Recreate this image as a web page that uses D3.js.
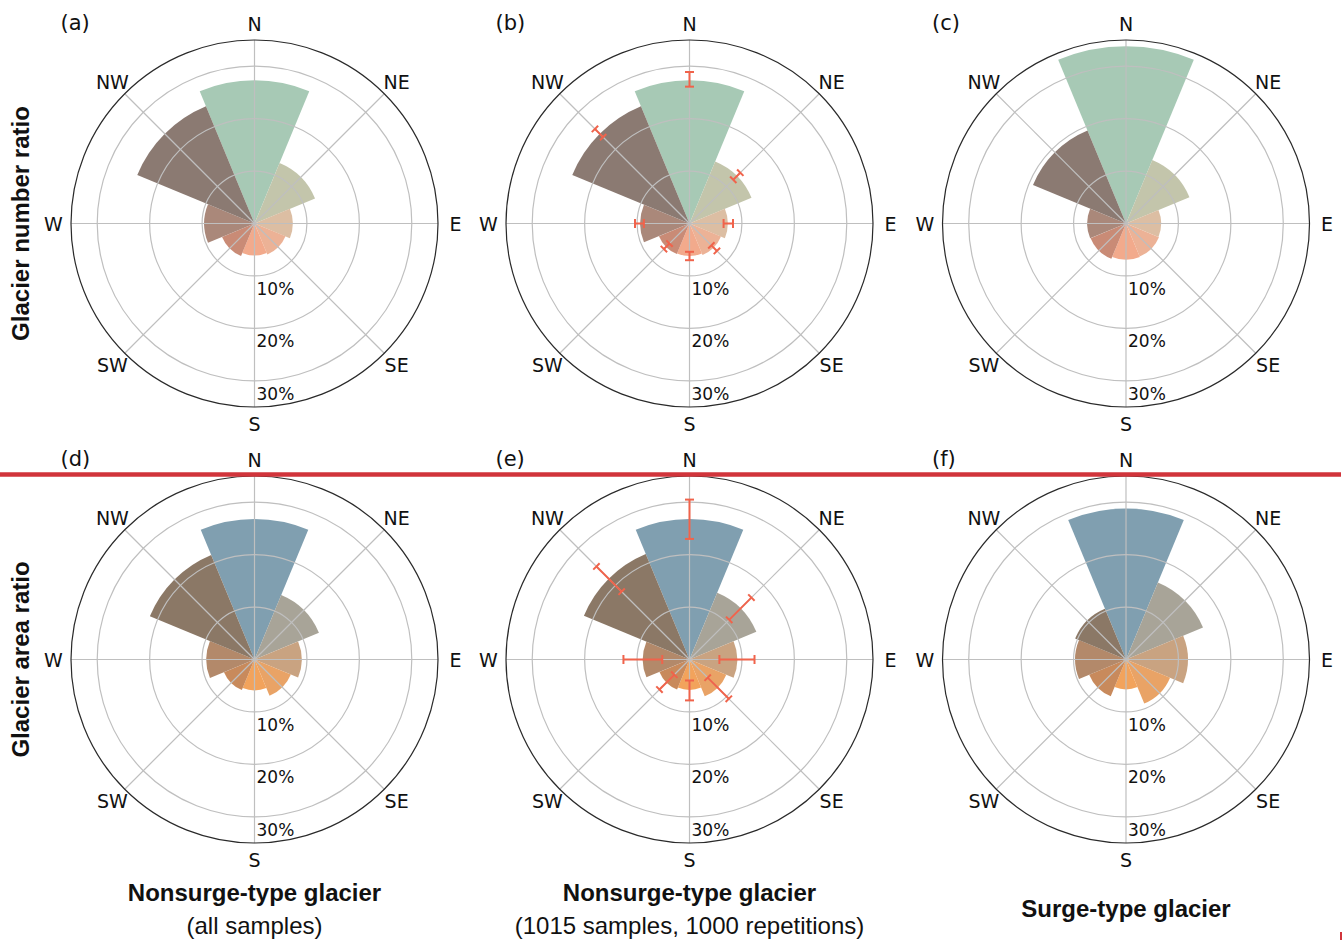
<!DOCTYPE html>
<html>
<head>
<meta charset="utf-8">
<script src="https://cdn.jsdelivr.net/npm/d3@7"></script>
<style>
  html, body { margin: 0; padding: 0; background: #fff; }
  svg { display: block; }
</style>
</head>
<body>
<div id="viz"></div>
<script>
// compass sectors, clockwise from north
const directions = ['N', 'NE', 'E', 'SE', 'S', 'SW', 'W', 'NW'];

// glacier number ratio (%)
const numberAll = [27.3, 12.5, 7.3, 6.4, 6.1, 6.7, 9.6, 24.2];
const numberSampled = [27.3, 12.8, 7.3, 6.5, 6.2, 6.3, 9.4, 24.2];
const numberSampledLo = [26.1, 11.8, 6.5, 5.9, 5.4, 5.4, 8.7, 23.3];
const numberSampledHi = [28.9, 13.7, 8.3, 7.4, 7.0, 6.9, 10.4, 25.5];
const numberSurge = [33.8, 13.1, 6.7, 6.8, 6.9, 7.3, 7.4, 19.2];

// glacier area ratio (%)
const areaAll = [26.8, 13.3, 9.0, 7.5, 5.9, 6.3, 9.2, 21.6];
const areaSampled = [26.8, 13.8, 9.1, 7.6, 5.8, 6.2, 8.9, 21.8];
const areaSampledLo = [23.0, 10.7, 5.7, 4.9, 4.0, 4.1, 5.2, 18.3];
const areaSampledHi = [30.5, 16.7, 12.4, 10.6, 7.8, 8.1, 12.6, 25.1];
const areaSurge = [28.8, 15.9, 11.8, 9.1, 5.7, 7.6, 9.7, 10.5];

const rTicks = [10, 20, 30];
const rMax = 35;

const numberColors = ['#a7c9b5', '#c3c5ab', '#dcbea3', '#ecb296', '#f2aa8c', '#c98b76', '#aa887a', '#8b7a72'];
const areaColors = ['#809fb0', '#a8a498', '#c9a381', '#e9a366', '#f2a35c', '#c88a5c', '#b3896a', '#8b7866'];

const panelLabels = ['(a)', '(b)', '(c)', '(d)', '(e)', '(f)'];
const rowTitles = ['Glacier number ratio', 'Glacier area ratio'];

const width = 1344, height = 942;
const colX = [254.5, 689.5, 1126];
const rowY = [223.5, 659.5];
const outerR = 183.5;

const svg = d3.select('#viz').append('svg')
  .attr('width', width)
  .attr('height', height);

const r = d3.scaleLinear().domain([0, rMax]).range([0, outerR]);
const step = 2 * Math.PI / directions.length;
const ang = d3.scaleLinear().domain([0, directions.length]).range([0, 2 * Math.PI]);

const arc = d3.arc()
  .innerRadius(0)
  .outerRadius(d => r(d.v))
  .startAngle(d => ang(d.i) - step / 2)
  .endAngle(d => ang(d.i) + step / 2);

const panels = [
  { values: numberAll, colors: numberColors },
  { values: numberSampled, lo: numberSampledLo, hi: numberSampledHi, colors: numberColors },
  { values: numberSurge, colors: numberColors },
  { values: areaAll, colors: areaColors },
  { values: areaSampled, lo: areaSampledLo, hi: areaSampledHi, colors: areaColors },
  { values: areaSurge, colors: areaColors }
];

panels.forEach((p, k) => {
  const cx = colX[k % 3], cy = rowY[Math.floor(k / 3)];
  const g = svg.append('g').attr('transform', `translate(${cx},${cy})`);

  // bars
  g.selectAll('path.bar')
    .data(p.values.map((v, i) => ({ v, i })))
    .enter()
    .append('path')
    .attr('class', 'bar')
    .attr('d', arc)
    .attr('fill', d => p.colors[d.i]);

  // grid over the bars
  g.selectAll('circle.grid')
    .data(rTicks)
    .enter()
    .append('circle')
    .attr('r', d => r(d))
    .attr('fill', 'none')
    .attr('stroke', '#bfbfbf')
    .attr('stroke-width', 1.2);

  g.selectAll('line.spoke')
    .data(directions.map((d, i) => i))
    .enter()
    .append('line')
    .attr('x1', 0).attr('y1', 0)
    .attr('x2', i => Math.sin(ang(i)) * r(rMax))
    .attr('y2', i => -Math.cos(ang(i)) * r(rMax))
    .attr('stroke', '#bfbfbf')
    .attr('stroke-width', 1.2);

  g.append('circle')
    .attr('r', r(rMax))
    .attr('fill', 'none')
    .attr('stroke', '#2a2a2a')
    .attr('stroke-width', 1.2);

  // error bars for the resampled panels
  if (p.lo) {
    const eb = g.selectAll('g.err')
      .data(p.lo.map((lo, i) => ({ lo, hi: p.hi[i], i })))
      .enter()
      .append('g')
      .attr('transform', d => `rotate(${ang(d.i) * 180 / Math.PI})`);
    eb.append('line')
      .attr('x1', 0).attr('x2', 0)
      .attr('y1', d => -r(d.lo))
      .attr('y2', d => -r(d.hi));
    eb.append('line')
      .attr('x1', -4.5).attr('x2', 4.5)
      .attr('y1', d => -r(d.lo)).attr('y2', d => -r(d.lo));
    eb.append('line')
      .attr('x1', -4.5).attr('x2', 4.5)
      .attr('y1', d => -r(d.hi)).attr('y2', d => -r(d.hi));
    eb.selectAll('line')
      .attr('stroke', '#f0634b')
      .attr('stroke-width', 2);
  }

  // radial tick labels along south
  g.selectAll('text.rt')
    .data(rTicks)
    .enter()
    .append('text')
    .attr('x', 2)
    .attr('y', d => r(d) + 13)
    .attr('dominant-baseline', 'central')
    .attr('font-family', 'DejaVu Sans')
    .attr('font-size', 17)
    .attr('fill', '#111')
    .text(d => d + '%');

  // compass labels
  g.selectAll('text.dir')
    .data(directions)
    .enter()
    .append('text')
    .attr('x', (d, i) => Math.sin(ang(i)) * 201)
    .attr('y', (d, i) => -Math.cos(ang(i)) * 200)
    .attr('text-anchor', 'middle')
    .attr('dominant-baseline', 'central')
    .attr('font-family', 'DejaVu Sans')
    .attr('font-size', 19)
    .attr('fill', '#111')
    .text(d => d);

  g.append('text')
    .attr('x', -194)
    .attr('y', -201)
    .attr('dominant-baseline', 'central')
    .attr('font-family', 'DejaVu Sans')
    .attr('font-size', 21)
    .attr('fill', '#111')
    .text(panelLabels[k]);
});

// row titles
rowTitles.forEach((t, i) => {
  svg.append('text')
    .attr('transform', `translate(20,${rowY[i]}) rotate(-90)`)
    .attr('text-anchor', 'middle')
    .attr('dominant-baseline', 'central')
    .attr('font-family', 'Liberation Sans, Arial, sans-serif')
    .attr('font-weight', 'bold')
    .attr('font-size', 24)
    .attr('fill', '#111')
    .text(t);
});

// column titles
const colTitles = [
  ['Nonsurge-type glacier', '(all samples)'],
  ['Nonsurge-type glacier', '(1015 samples, 1000 repetitions)'],
  ['Surge-type glacier']
];
colTitles.forEach((lines, i) => {
  const single = lines.length === 1;
  svg.append('text')
    .attr('x', colX[i]).attr('y', single ? 908 : 892)
    .attr('text-anchor', 'middle')
    .attr('dominant-baseline', 'central')
    .attr('font-family', 'Liberation Sans, Arial, sans-serif')
    .attr('font-weight', 'bold')
    .attr('font-size', 24)
    .attr('fill', '#111')
    .text(lines[0]);
  if (!single) {
    svg.append('text')
      .attr('x', colX[i]).attr('y', 925)
      .attr('text-anchor', 'middle')
      .attr('dominant-baseline', 'central')
      .attr('font-family', 'Liberation Sans, Arial, sans-serif')
      .attr('font-size', 24)
      .attr('fill', '#111')
      .text(lines[1]);
  }
});

// red separator line between the rows
svg.append('line')
  .attr('x1', 0).attr('x2', 1341)
  .attr('y1', 474.5).attr('y2', 474.5)
  .attr('stroke', '#d1343b')
  .attr('stroke-width', 4.5);
svg.append('line')
  .attr('x1', 1341).attr('x2', 1341)
  .attr('y1', 932).attr('y2', 940)
  .attr('stroke', '#d1343b')
  .attr('stroke-width', 2);
</script>
</body>
</html>
